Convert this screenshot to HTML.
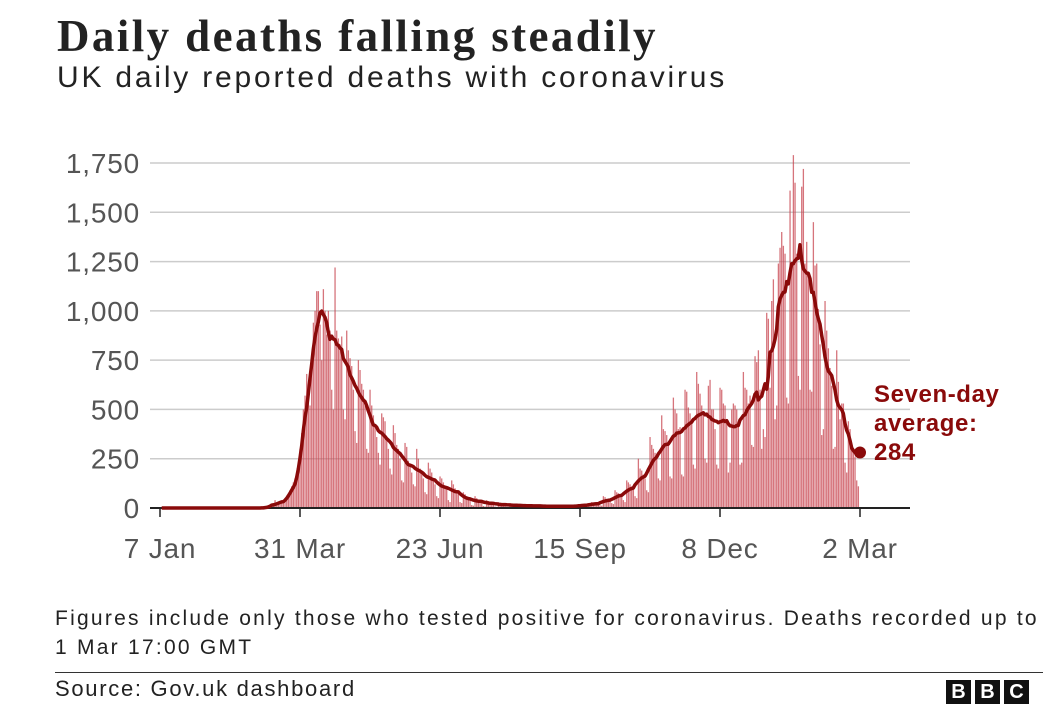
<!DOCTYPE html>
<html><head><meta charset="utf-8"><style>
body{margin:0;width:1064px;height:726px;background:#fff;overflow:hidden;font-family:"Liberation Sans",sans-serif;position:relative}
.t{position:absolute;white-space:nowrap}
</style></head><body>
<div class="t" style="left:57px;top:10px;font-family:'Liberation Serif',serif;font-weight:bold;font-size:45px;letter-spacing:2.4px;color:#222">Daily deaths falling steadily</div>
<div class="t" style="left:57px;top:61px;font-size:30px;letter-spacing:2.8px;color:#222">UK daily reported deaths with coronavirus</div>
<svg id="chart" width="1064" height="600" style="position:absolute;left:0;top:0"></svg>
<div class="t" style="left:55px;top:604px;font-size:21px;letter-spacing:2.25px;line-height:29px;color:#222">Figures include only those who tested positive for coronavirus. Deaths recorded up to<br>1 Mar 17:00 GMT</div>
<div style="position:absolute;left:55px;top:672px;width:988px;height:1px;background:#333"></div>
<div class="t" style="left:55px;top:676px;font-size:22px;letter-spacing:1.7px;color:#222">Source: Gov.uk dashboard</div>
<div style="position:absolute;left:946px;top:680px">
<span style="position:absolute;left:0;width:25px;height:24px;background:#111;color:#fff;font-weight:bold;font-size:20px;text-align:center;line-height:25px">B</span>
<span style="position:absolute;left:29px;width:25px;height:24px;background:#111;color:#fff;font-weight:bold;font-size:20px;text-align:center;line-height:25px">B</span>
<span style="position:absolute;left:58px;width:25px;height:24px;background:#111;color:#fff;font-weight:bold;font-size:20px;text-align:center;line-height:25px">C</span>
</div>
<script>
const daily = [].concat(
new Array(63).fill(0),
[2,3,8,10,15,25,40],
[10,20,25,35,40,45,50],
[60,90,110,130,150,140,170],
[300,380,500,570,680,620,520],
[780,940,1000,1100,1100,930,750],
[1110,1000,880,1000,900,600,500],
[1220,900,860,830,870,500,450],
[900,800,760,720,600,390,330],
[750,700,630,600,520,300,280],
[600,520,470,420,360,280,220],
[480,460,440,360,300,200,170],
[420,380,320,300,250,140,130],
[330,310,240,210,180,120,110],
[300,250,200,180,150,80,70],
[230,200,180,150,120,60,50],
[160,150,130,110,100,40,30],
[140,120,100,85,70,30,25],
[80,70,55,50,40,15,12],
[60,50,40,35,30,10,8],
[40,35,30,25,20,8,6],
[30,25,20,18,15,6,5],
[25,20,18,15,12,5,4],
[20,18,15,12,10,4,3],
[18,15,12,12,10,3,3],
[15,12,12,10,8,3,3],
[12,14,10,10,8,3,3],
[14,12,12,10,9,4,5],
[20,18,16,15,14,8,10],
[30,28,25,25,20,14,12],
[60,55,45,40,35,25,20],
[90,80,75,70,65,40,30],
[140,130,120,110,100,60,50],
[250,200,190,170,150,90,80],
[360,320,300,280,260,150,140],
[470,400,390,370,330,160,150],
[560,500,480,400,410,170,160],
[600,590,510,480,450,220,200],
[690,630,580,520,480,250,230],
[620,650,500,500,400,220,200],
[610,600,530,520,430,180,230],
[500,530,520,500,430,220,230],
[690,610,600,530,570,320,310],
[770,740,800,600,300,400,360],
[990,960,610,1050,1160,450,520],
[1240,1320,1400,1330,1290,560,530],
[1610,1240,1790,1650,1290,670,600],
[1630,1720,1240,1350,1200,600,590],
[1450,1230,1240,1010,830,370,400],
[1050,900,810,710,620,300,310],
[800,640,450,530,530,230,180],
[440,400,320,300,260,140,110]
);
const yTicks = [0,250,500,750,1000,1250,1500,1750];
const yTickLabels = ["0","250","500","750","1,000","1,250","1,500","1,750"];
const xTickDays = [0,84,168,252,336,420];
const xTickLabels = ["7 Jan","31 Mar","23 Jun","15 Sep","8 Dec","2 Mar"];
const avgLabel = ["Seven-day","average:","284"];

const NS="http://www.w3.org/2000/svg";
const svg=document.getElementById('chart');
const X0=160,X1=860,D=420,Y0=508,YK=345/1750;
const xs=d=>X0+(X1-X0)*d/D;
const ys=v=>Y0-v*YK;
function mk(tag,attrs,parent){const e=document.createElementNS(NS,tag);for(const k in attrs)e.setAttribute(k,attrs[k]);(parent||svg).appendChild(e);return e;}
yTicks.forEach((v,i)=>{
  const g=mk('line',{x1:150,x2:910,y1:ys(v),y2:ys(v),stroke:'#ccc','stroke-width':1.5});
  
  
  const t=mk('text',{x:140,y:ys(v)+10,'text-anchor':'end','font-size':28,'letter-spacing':0.8,fill:'#555','font-family':'Liberation Sans, sans-serif'});
  t.textContent=yTickLabels[i];
  
  
});
daily.forEach((v,d)=>{
  if(v<=0)return;
  const r=mk('rect',{x:xs(d)-0.6,y:ys(v),width:1.3,height:v*YK,fill:'#c84650','fill-opacity':0.75});
  
  
});
const ax=mk('line',{x1:150,x2:910,y1:Y0,y2:Y0,stroke:'#222','stroke-width':2});


xTickDays.forEach((d,i)=>{
  const tk=mk('line',{x1:xs(d),x2:xs(d),y1:Y0,y2:Y0+9,stroke:'#222','stroke-width':1.5});
  
  
  const t=mk('text',{x:xs(d),y:558,'text-anchor':'middle','font-size':28,'letter-spacing':0.8,fill:'#555','font-family':'Liberation Sans, sans-serif'});
  t.textContent=xTickLabels[i];
  
  
});
let pts=[];
const N=daily.length;
for(let d=0;d<=N-4;d++){
  let s=0;
  for(let k=d-3;k<=d+3;k++){if(k>=0)s+=daily[k];}
  pts.push(xs(d+1).toFixed(1)+','+ys(s/7).toFixed(1));
}
let tEnd=0;for(let k=N-7;k<N;k++)tEnd+=daily[k];
const lastX=xs(420),lastY=ys(tEnd/7);
pts.push(lastX.toFixed(1)+','+lastY.toFixed(1));
const pl=mk('polyline',{points:pts.join(' '),fill:'none',stroke:'#8a0a0a','stroke-width':3.5,'stroke-linejoin':'round'});


const dot=mk('circle',{cx:lastX,cy:lastY,r:6,fill:'#8a0a0a'});


avgLabel.forEach((s,i)=>{
  const t=mk('text',{x:874,y:402+i*29,'font-size':24,'font-weight':'bold','letter-spacing':0.6,fill:'#8a0a0a','font-family':'Liberation Sans, sans-serif'});
  t.textContent=s;
  
  
});
</script>
</body></html>
